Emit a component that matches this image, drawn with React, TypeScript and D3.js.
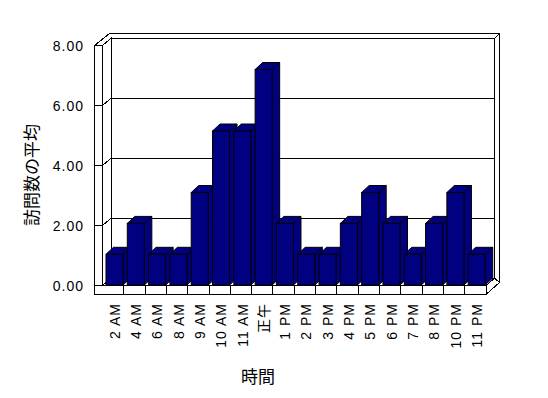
import * as d3 from 'd3';
import React from 'react';

const categories = ['2 AM', '4 AM', '6 AM', '8 AM', '9 AM', '10 AM', '11 AM', '正午', '1 PM', '2 PM', '3 PM', '4 PM', '5 PM', '6 PM', '7 PM', '8 PM', '10 PM', '11 PM'];
const visits = [1.04, 2.07, 1.04, 1.04, 3.1, 5.15, 5.15, 7.2, 2.07, 1.04, 1.04, 2.07, 3.1, 2.07, 1.04, 2.07, 3.1, 1.04];
const yTicks = [0, 2, 4, 6, 8];
const yTitle = '訪問数の平均';
const xTitle = '時間';

const W = 548;
const H = 398;
const NAVY = '#000080';
const FONT = '"Liberation Sans", Arial, "Noto Sans CJK JP", sans-serif';
const CJK = '"Noto Sans CJK JP", sans-serif';

// oblique depth offsets
const DX = 8.5, DY = -7.2; // floor / inner depth
const OX = 15, OY = -12; // including wall thickness
const BDX = 7.5, BDY = -7; // bar depth

export default function App() {
    const x = d3.scaleBand<string>().domain(categories).range([102.5, 486]).padding(0);
    const y = d3.scaleLinear().domain([0, 8]).range([285.5, 45.5]);
    const bw = x.bandwidth();
    const wallL = 94.5;
    const floorB = 294.5;
    const x0 = x.range()[0];
    const x1 = x.range()[1];
    const pts = (p: number[][]) => p.map((q) => q.join(',')).join(' ');
    const line = { stroke: '#000', strokeWidth: 1, fill: 'none' };

    return (
        <svg width={W} height={H} style={{ position: 'absolute', left: 0, top: 0, background: '#fff' }}>
            <g shapeRendering="crispEdges">
                {/* back wall */}
                <rect x={x0 + DX} y={y(8) + DY} width={x1 - x0} height={y(0) - y(8)} fill="#fff" {...line} />
                {yTicks.map((t) => (
                    <line key={`g${t}`} x1={x0 + DX} x2={x1 + DX} y1={y(t) + DY} y2={y(t) + DY} {...line} />
                ))}
                {/* wall thickness outline */}
                <polyline points={pts([[wallL, y(8)], [wallL + OX, y(8) + OY], [x1 + OX - 1.5, y(8) + OY], [x1 + DX, y(8) + DY]])} {...line} />
                <line x1={x1 + OX - 1.5} x2={x1 + OX - 1.5} y1={y(8) + OY} y2={floorB + OY} {...line} />
                {/* left wall inner face */}
                <polygon points={pts([[x0, y(8)], [x0 + DX, y(8) + DY], [x0 + DX, y(0) + DY], [x0, y(0)]])} fill="#fff" {...line} />
                {yTicks.map((t) => (
                    <line key={`l${t}`} x1={x0} y1={y(t)} x2={x0 + DX} y2={y(t) + DY} {...line} />
                ))}
                {/* floor top */}
                <polygon points={pts([[x0, y(0)], [x1, y(0)], [x1 + DX, y(0) + DY], [x0 + DX, y(0) + DY]])} fill="#fff" {...line} />
            </g>

            {/* bars */}
            <g strokeLinejoin="miter">
                {categories.map((c, i) => {
                    const bx = (x(c) ?? 0) + bw * 0.14 + 0.5;
                    const bwid = bw * 0.8;
                    const top = y(visits[i]);
                    const base = y(0) - 0.5;
                    return (
                        <g key={c}>
                            <polygon points={pts([[bx + bwid, top], [bx + bwid + BDX, top + BDY], [bx + bwid + BDX, base + BDY], [bx + bwid, base]])} fill={NAVY} stroke="#000" />
                            <polygon points={pts([[bx, top], [bx + BDX, top + BDY], [bx + bwid + BDX, top + BDY], [bx + bwid, top]])} fill={NAVY} stroke="#000" />
                            <rect x={bx} y={top} width={bwid} height={base - top} fill={NAVY} stroke="#000" />
                        </g>
                    );
                })}
            </g>

            <g shapeRendering="crispEdges">
                {/* floor front face */}
                <rect x={wallL} y={y(0)} width={x1 - wallL} height={floorB - y(0)} fill="#fff" {...line} />
                {categories.slice(1).map((c) => (
                    <line key={`d${c}`} x1={x(c)} x2={x(c)} y1={y(0)} y2={floorB} {...line} />
                ))}
                {/* floor right side */}
                <polygon points={pts([[x1, y(0)], [x1 + DX, y(0) + DY], [x1 + OX - 1.5, floorB + OY], [x1, floorB]])} fill="#fff" {...line} />
                {/* left wall front edge */}
                <rect x={wallL} y={y(8)} width={x0 - wallL} height={y(0) - y(8)} fill="#fff" {...line} />
                {yTicks.map((t) => (
                    <line key={`t${t}`} x1={wallL} x2={x0} y1={y(t)} y2={y(t)} {...line} />
                ))}
            </g>

            {/* y tick labels */}
            {yTicks.map((t) => (
                <text key={`yl${t}`} x={84} y={y(t)} dy="0.36em" textAnchor="end" fontSize={14} letterSpacing={1} fontFamily={FONT} fill="#000">
                    {d3.format('.2f')(t)}
                </text>
            ))}

            {/* x tick labels */}
            {categories.map((c) => (
                <text key={`xl${c}`} transform={`translate(${(x(c) ?? 0) + bw / 2 + 1.5},303) rotate(-90)`} textAnchor="end" dy="0.36em" fontSize={14} letterSpacing={1} fontFamily={FONT} fill="#000">
                    {c}
                </text>
            ))}

            <text transform="translate(32,175) rotate(-90)" textAnchor="middle" dy="0.36em" fontSize={17} fontFamily={CJK} fill="#000">
                {yTitle}
            </text>
            <text x={258} y={377} textAnchor="middle" dy="0.36em" fontSize={17} fontFamily={CJK} fill="#000">
                {xTitle}
            </text>
        </svg>
    );
}
